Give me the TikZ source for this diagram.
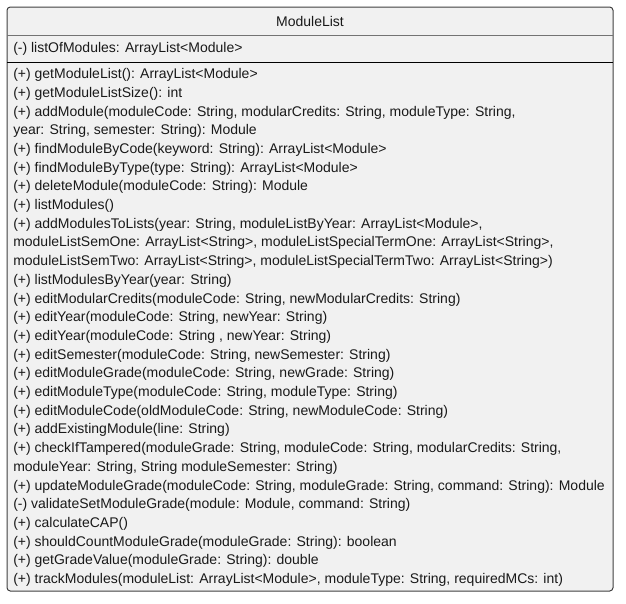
\documentclass[tikz,border=0pt]{standalone}
\usepackage{fontspec}
\setmainfont{Liberation Sans}
\begin{document}
\begin{tikzpicture}[x=0.75pt,y=-0.75pt,
  classbox/.style={draw=black!75,fill=umlfill,rounded corners=2.5pt,line width=0.75pt},
  member/.style={anchor=west,inner sep=0pt,font=\fontsize{10.5pt}{12pt}\selectfont,text=black!90},
  titletext/.style={inner sep=0pt,font=\fontsize{10.5pt}{12pt}\selectfont,text=black!90}]
\definecolor{umlfill}{HTML}{F1F1F1}
\useasboundingbox (0,0) rectangle (626,604);
% class frame
\draw[classbox] (7,7) rectangle (613,591);
\coordinate (tl) at (7,35);  \coordinate (tr) at (613,35);
\coordinate (al) at (7,62);  \coordinate (ar) at (613,62);
\draw[black!55,line width=0.6pt] (tl) -- (tr);
\draw[black,line width=0.75pt] (al) -- (ar);
% class name and attribute
\node[titletext] (name) at (310,21) {ModuleList};
\node[member] (attr) at (13,48.5) {(-) listOfModules: ArrayList<Module>};
% operations
\node[member] (m1)  at (13,75.0)  {(+) getModuleList(): ArrayList<Module>};
\node[member] (m2)  at (13,93.7)  {(+) getModuleListSize(): int};
\node[member] (m3)  at (13,112.4) {(+) addModule(moduleCode: String, modularCredits: String, moduleType: String,};
\node[member] (m4)  at (13,131.1) {year: String, semester: String): Module};
\node[member] (m5)  at (13,149.8) {(+) findModuleByCode(keyword: String): ArrayList<Module>};
\node[member] (m6)  at (13,168.5) {(+) findModuleByType(type: String): ArrayList<Module>};
\node[member] (m7)  at (13,187.2) {(+) deleteModule(moduleCode: String): Module};
\node[member] (m8)  at (13,205.9) {(+) listModules()};
\node[member] (m9)  at (13,224.6) {(+) addModulesToLists(year: String, moduleListByYear: ArrayList<Module>,};
\node[member] (m10) at (13,243.3) {moduleListSemOne: ArrayList<String>, moduleListSpecialTermOne: ArrayList<String>,};
\node[member] (m11) at (13,262.0) {moduleListSemTwo: ArrayList<String>, moduleListSpecialTermTwo: ArrayList<String>)};
\node[member] (m12) at (13,280.7) {(+) listModulesByYear(year: String)};
\node[member] (m13) at (13,299.4) {(+) editModularCredits(moduleCode: String, newModularCredits: String)};
\node[member] (m14) at (13,318.1) {(+) editYear(moduleCode: String, newYear: String)};
\node[member] (m15) at (13,336.8) {(+) editYear(moduleCode: String , newYear: String)};
\node[member] (m16) at (13,355.5) {(+) editSemester(moduleCode: String, newSemester: String)};
\node[member] (m17) at (13,374.2) {(+) editModuleGrade(moduleCode: String, newGrade: String)};
\node[member] (m18) at (13,392.9) {(+) editModuleType(moduleCode: String, moduleType: String)};
\node[member] (m19) at (13,411.6) {(+) editModuleCode(oldModuleCode: String, newModuleCode: String)};
\node[member] (m20) at (13,430.3) {(+) addExistingModule(line: String)};
\node[member] (m21) at (13,449.0) {(+) checkIfTampered(moduleGrade: String, moduleCode: String, modularCredits: String,};
\node[member] (m22) at (13,467.7) {moduleYear: String, String moduleSemester: String)};
\node[member] (m23) at (13,486.4) {(+) updateModuleGrade(moduleCode: String, moduleGrade: String, command: String): Module};
\node[member] (m24) at (13,505.1) {(-) validateSetModuleGrade(module: Module, command: String)};
\node[member] (m25) at (13,523.8) {(+) calculateCAP()};
\node[member] (m26) at (13,542.5) {(+) shouldCountModuleGrade(moduleGrade: String): boolean};
\node[member] (m27) at (13,561.2) {(+) getGradeValue(moduleGrade: String): double};
\node[member] (m28) at (13,579.9) {(+) trackModules(moduleList: ArrayList<Module>, moduleType: String, requiredMCs: int)};
\end{tikzpicture}
\end{document}
